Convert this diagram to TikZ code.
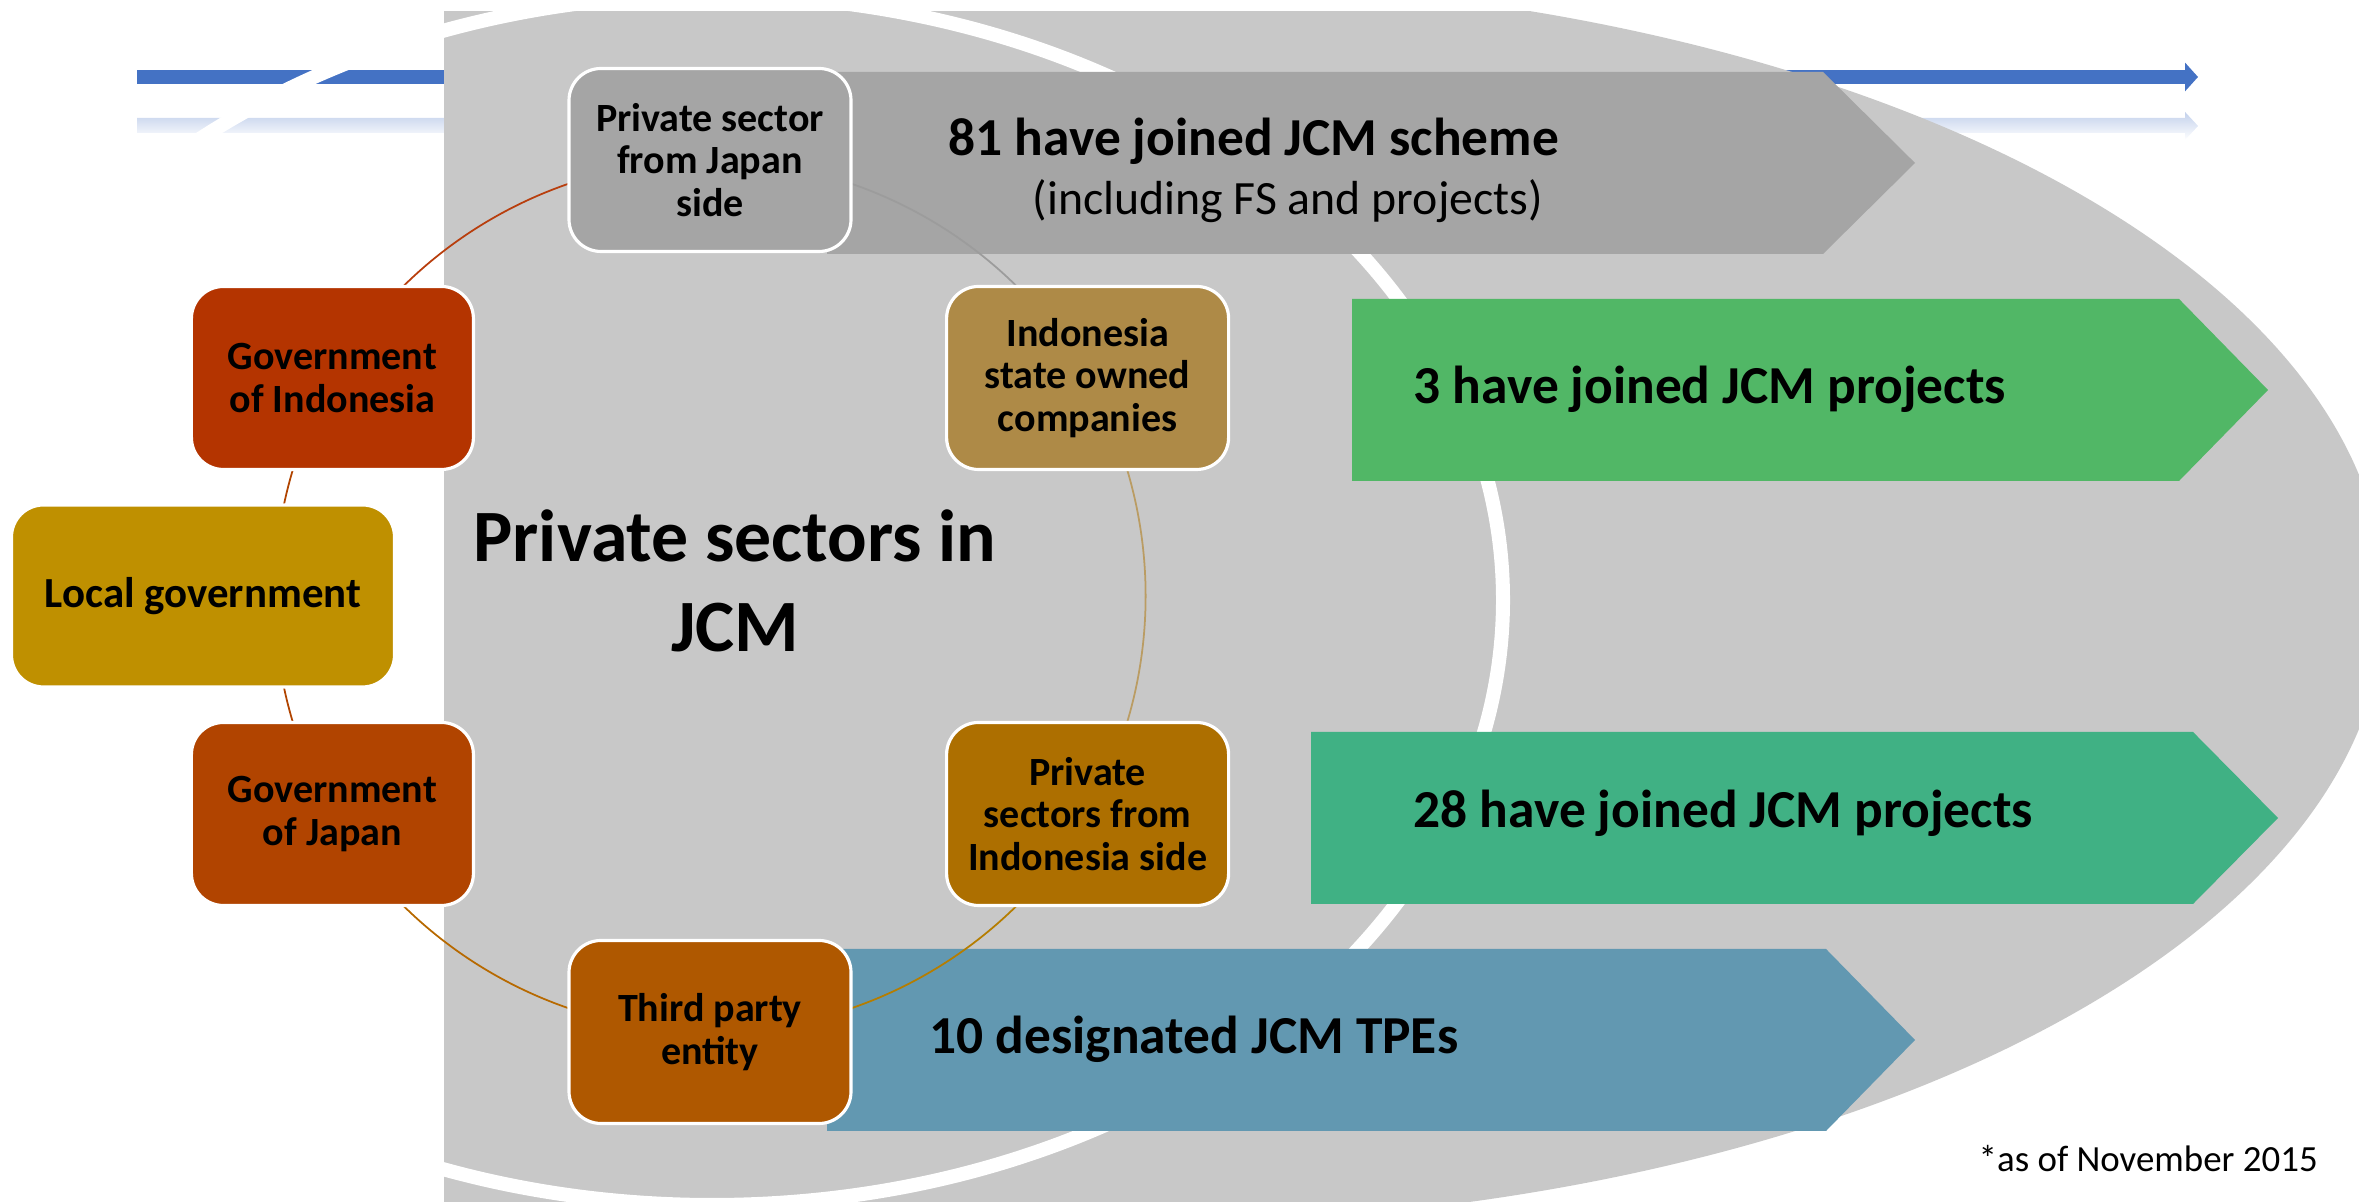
\documentclass[tikz,border=0pt]{standalone}
\usepackage{fontspec}
\setmainfont{Carlito}
\usepackage{tikz}
\usetikzlibrary{arrows.meta,calc}

\definecolor{bggray}{HTML}{C8C8C8}
\definecolor{midgray}{HTML}{A5A5A5}
\definecolor{ringgray}{HTML}{9C9C9C}
\definecolor{tlblue}{HTML}{4472C4}
\definecolor{tlfade}{HTML}{C3D1EC}
\definecolor{govindo}{HTML}{B43400}
\definecolor{localgov}{HTML}{BF9000}
\definecolor{govjapan}{HTML}{B14400}
\definecolor{soefill}{HTML}{AE8A47}
\definecolor{psfill}{HTML}{AD6F00}
\definecolor{tpefill}{HTML}{AF5800}
\definecolor{greenA}{HTML}{51B766}
\definecolor{greenB}{HTML}{40B184}
\definecolor{tpeblue}{HTML}{6298B1}

\pgfdeclarelayer{back}
\pgfdeclarelayer{links}
\pgfsetlayers{back,links,main}

\begin{document}
\begin{tikzpicture}[
  hubbox/.style={rectangle, draw=white, line width=0.9pt, rounded corners=0.32cm,
                 minimum width=2.82cm, minimum height=1.83cm, align=center,
                 inner sep=2pt, font=\fontsize{11.4}{12.1}\selectfont\bfseries},
  ring/.style={line width=0.5pt, bend right=30, looseness=0.91},
  bannertext/.style={anchor=base west, inner sep=0pt,
                     font=\fontsize{15.2}{18}\selectfont\bfseries},
]
  \useasboundingbox (0,0) rectangle (23.59,12.02);

  \begin{pgfonlayer}{back}
    % Timeline arrows along the top
    \coordinate (tl-start) at (1.37,11.25);
    \coordinate (tl-end) at (21.98,11.25);
    \draw[tlblue, line width=0.14cm, -{Triangle[length=0.13cm, width=0.28cm]}] (tl-start) -- (tl-end);
    \shade[top color=tlfade, bottom color=white]
      (1.37,10.84) -- (21.85,10.84) -- (21.85,10.90) -- (21.98,10.76)
      -- (21.85,10.62) -- (21.85,10.69) -- (1.37,10.69) -- cycle;

    % Background D shape and white ring
    \begin{scope}
      \clip (0,0) rectangle (23.59,11.90);
      \fill[bggray] (4.44,12.22) -- (11.40,12.22)
        arc[start angle=90, end angle=-90, x radius=12.45, y radius=6.22]
        -- (4.44,-0.22) -- cycle;
    \end{scope}
    \draw[white, line width=0.14cm] (7.12,6.02) ellipse [x radius=7.91, y radius=6.05];

    % Banners
    \fill[midgray] (8.27,11.30) -- (18.23,11.30) -- (19.15,10.39) -- (18.23,9.48) -- (8.27,9.48) -- cycle;
    \fill[greenA] (13.52,9.03) -- (21.79,9.03) -- (22.68,8.12) -- (21.79,7.21) -- (13.52,7.21) -- cycle;
    \fill[greenB] (13.11,4.70) -- (21.93,4.70) -- (22.78,3.84) -- (21.93,2.98) -- (13.11,2.98) -- cycle;
    \fill[tpeblue] (8.27,2.53) -- (18.26,2.53) -- (19.15,1.62) -- (18.26,0.71) -- (8.27,0.71) -- cycle;
  \end{pgfonlayer}

  \node[bannertext] (scheme) at (9.48,10.46) {81 have joined JCM scheme};
  \node[anchor=base west, inner sep=0pt, font=\fontsize{13.6}{16}\selectfont] (schemenote) at (10.32,9.87) {(including FS and projects)};
  \node[bannertext] (soeproj) at (14.13,7.98) {3 have joined JCM projects};
  \node[bannertext] (psproj) at (14.13,3.74) {28 have joined JCM projects};
  \node[bannertext] (tpes) at (9.29,1.48) {10 designated JCM TPEs};

  % Cycle of actors
  \coordinate (hub) at (7.10,6.06);
  \node[hubbox, fill=midgray] (pjapan) at ($(hub)+(90:4.36)$) {Private sector\\from Japan\\side};
  \node[hubbox, fill=govindo] (govindo) at ($(hub)+(150:4.36)$) {Government\\of Indonesia};
  \node[hubbox, fill=localgov, minimum width=3.83cm, minimum height=1.82cm,
        font=\fontsize{12.2}{13}\selectfont\bfseries] (localgov) at ($(hub)+(180:5.07)$) {Local government};
  \node[hubbox, fill=govjapan] (govjapan) at ($(hub)+(210:4.36)$) {Government\\of Japan};
  \node[hubbox, fill=tpefill] (tpe) at ($(hub)+(270:4.36)$) {Third party\\entity};
  \node[hubbox, fill=psfill] (psindo) at ($(hub)+(330:4.36)$) {Private\\sectors from\\Indonesia side};
  \node[hubbox, fill=soefill] (soe) at ($(hub)+(30:4.36)$) {Indonesia\\state owned\\companies};

  % Ring links, behind the boxes
  \begin{pgfonlayer}{links}
    \draw[ring, govindo!95!white] (pjapan.center) to (govindo.center);
    \draw[ring, govjapan] (govindo.center) to (govjapan.center);
    \draw[ring, tpefill!90!yellow] (govjapan.center) to (tpe.center);
    \draw[ring, psfill!90!yellow] (tpe.center) to (psindo.center);
    \draw[ring, soefill!85!white] (psindo.center) to (soe.center);
    \draw[ring, ringgray] (soe.center) to (pjapan.center);
  \end{pgfonlayer}

  \node[align=center, inner sep=0pt, font=\fontsize{21}{25.8}\selectfont\bfseries] (title) at (7.35,6.21) {Private sectors in\\JCM};

  \node[anchor=base west, inner sep=0pt, font=\fontsize{10.5}{12}\selectfont] (asof) at (19.78,0.30) {*as of November 2015};
\end{tikzpicture}
\end{document}
